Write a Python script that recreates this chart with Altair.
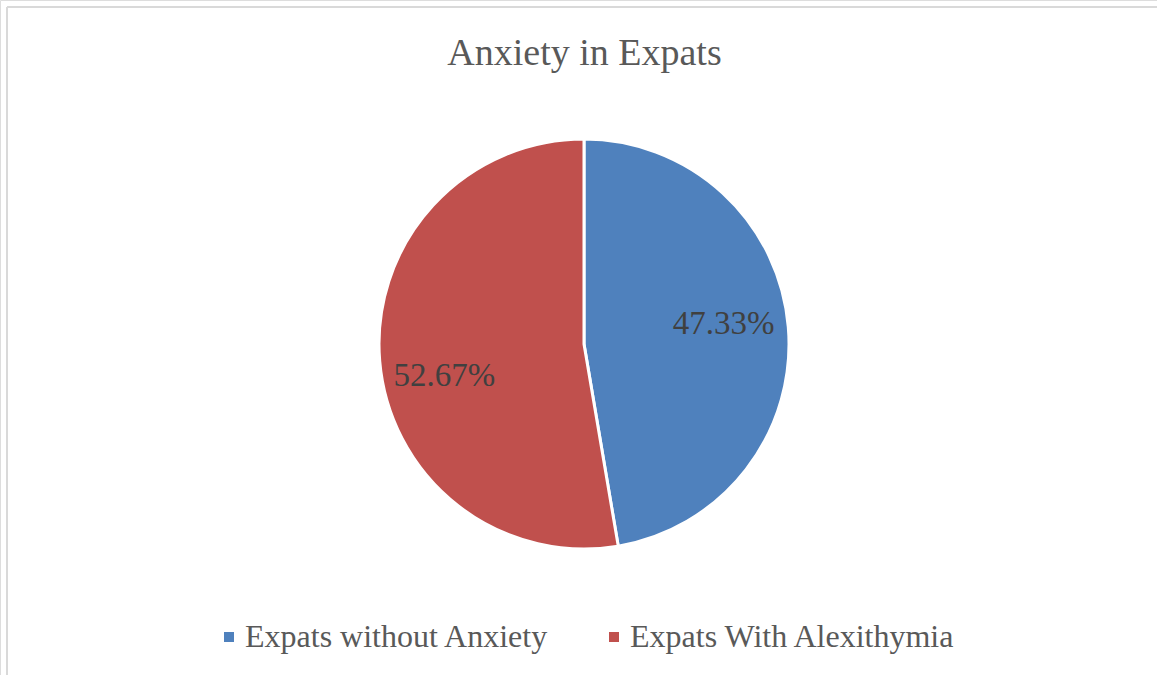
import altair as alt
import pandas as pd

categories = ["Expats without Anxiety", "Expats With Alexithymia"]
values = [47.33, 52.67]
labels = ["47.33%", "52.67%"]
colors = ["#4F81BD", "#C0504D"]

df = pd.DataFrame({"cat": categories, "val": values, "label": labels, "order": [0, 1]})

W, H = 1157, 675
CX, CY = 584, 344
serif = "Liberation Serif"

theta_scale = alt.Scale(domain=[0, 100], range=[0, 6.283185307179586])

base = alt.Chart(df).transform_window(
    end="sum(val)", sort=[alt.SortField("order")], frame=[None, 0]
).transform_calculate(
    start="datum.end - datum.val", mid="datum.end - datum.val / 2"
).encode(
    x=alt.value(CX),
    y=alt.value(CY),
)

pie = base.mark_arc(outerRadius=205, stroke="white", strokeWidth=3).encode(
    theta=alt.Theta("start:Q", scale=theta_scale),
    theta2="end:Q",
    color=alt.Color(
        "cat:N",
        scale=alt.Scale(domain=categories, range=colors),
        sort=categories,
        legend=alt.Legend(
            title=None,
            orient="none",
            direction="horizontal",
            legendX=213,
            legendY=621,
            symbolType="square",
            symbolSize=100,
            symbolStrokeWidth=0,
            labelFont=serif,
            labelFontSize=32,
            labelColor="#595959",
            labelOffset=0,
            columnPadding=49,
            labelLimit=500,
        ),
    ),
)

text_blue = base.mark_text(radius=140, font=serif, fontSize=33, color="#404040",
                           baseline="middle", align="center", dy=-8).encode(
    theta=alt.Theta("mid:Q", scale=theta_scale),
    text="label:N",
).transform_filter(alt.datum.order == 0)
text_red = base.mark_text(radius=140, font=serif, fontSize=33, color="#404040",
                          baseline="middle", align="center", dy=20).encode(
    theta=alt.Theta("mid:Q", scale=theta_scale),
    text="label:N",
).transform_filter(alt.datum.order == 1)

top_line = alt.Chart(df).mark_rule(color="#D9D9D9", strokeWidth=2).encode(
    x=alt.value(7), x2=alt.value(W), y=alt.value(7)
)
left_line = alt.Chart(df).mark_rule(color="#D9D9D9", strokeWidth=2).encode(
    x=alt.value(7), y=alt.value(7), y2=alt.value(H)
)

chart = alt.layer(top_line, left_line, pie, text_blue, text_red).properties(
    width=W,
    height=H,
    padding=0,
    autosize=alt.AutoSizeParams(type="none"),
    title=alt.Title(
        "Anxiety in Expats",
        font=serif,
        fontSize=38,
        fontWeight="normal",
        color="#595959",
        anchor="middle",
        frame="group",
        orient="top",
        offset=-73,
        dx=6,
    ),
).configure_view(stroke=None).configure(background="white")

chart.save("out.html", embed_options={"renderer": "svg", "actions": False})
